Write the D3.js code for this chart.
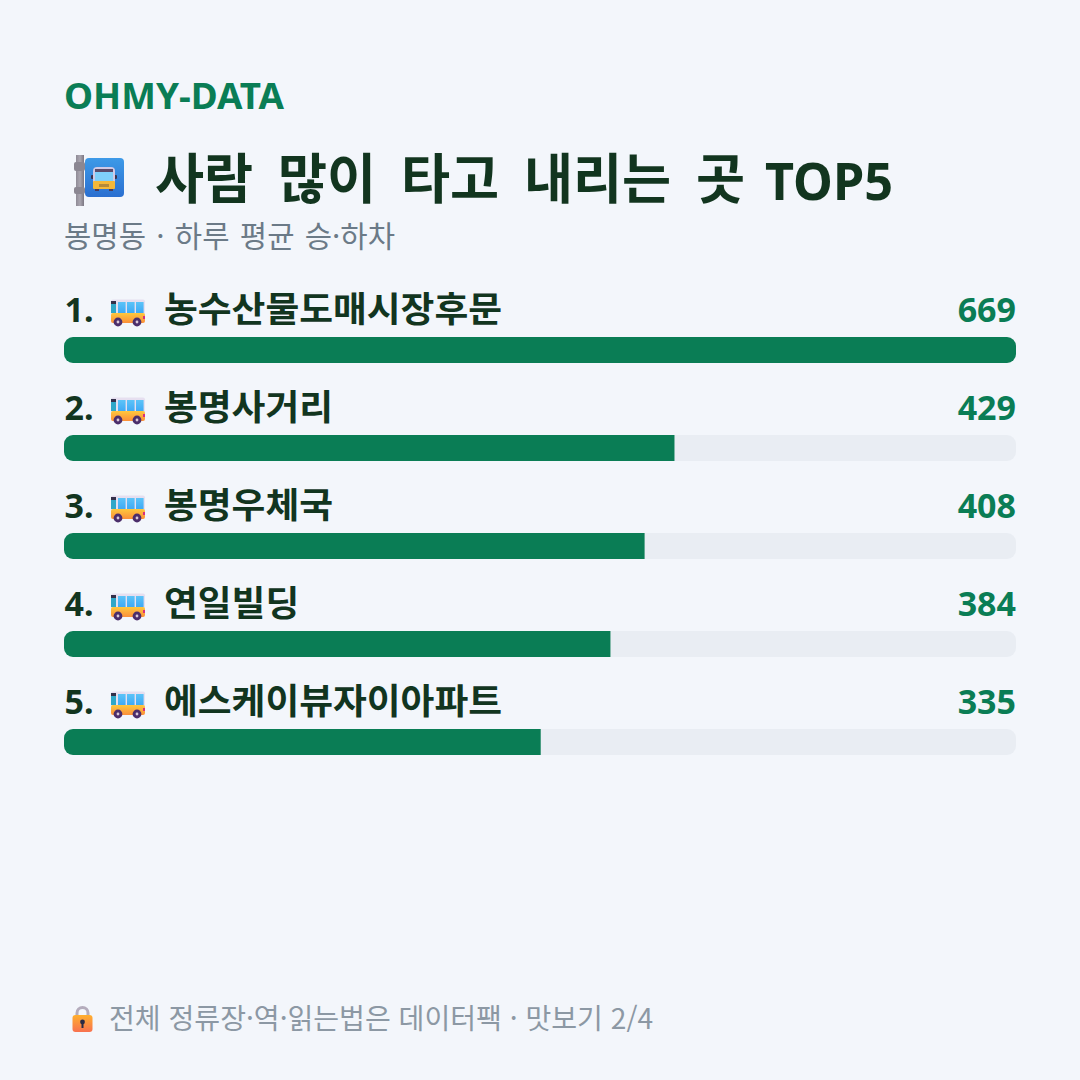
<!DOCTYPE html>
<html lang="ko">
<head>
<meta charset="utf-8">
<script src="https://cdn.jsdelivr.net/npm/d3@7"></script>
<style>
html,body{margin:0;padding:0;background:#f3f6fb;}
svg{display:block;}
text{font-family:"Noto Sans CJK KR","Noto Sans",sans-serif;}
.latin{font-family:"Noto Sans",sans-serif;}
</style>
</head>
<body>
<svg id="chart" width="1080" height="1080"></svg>
<script>
// Busiest stops in the neighbourhood, average daily boardings and alightings
const ranks = [1, 2, 3, 4, 5];
const stops = ["농수산물도매시장후문", "봉명사거리", "봉명우체국", "연일빌딩", "에스케이뷰자이아파트"];
const riders = [669, 429, 408, 384, 335];
const brandText = "OHMY-DATA";
const titleText = "사람 많이 타고 내리는 곳";
const titleTail = "TOP5";
const subtitleText = "봉명동 · 하루 평균 승·하차";
const footerText = "전체 정류장·역·읽는법은 데이터팩 · 맛보기 2/4";

const green = "#0a7d55", dark = "#12351f", track = "#e9edf3";
const svg = d3.select("#chart");

// Places a line of text and fits it to a set advance width
function label(parent, str, x, y, size, weight, fill, width, cls) {
  const t = parent.append("text").text(str)
    .attr("x", x).attr("y", y).attr("fill", fill)
    .attr("font-size", size).attr("font-weight", weight);
  if (width) t.attr("textLength", width).attr("lengthAdjust", "spacingAndGlyphs");
  if (cls) t.attr("class", cls);
  return t;
}

const defs = svg.append("defs");
function grad(id, stops, x2 = 0, y2 = 1) {
  const g = defs.append("linearGradient").attr("id", id)
    .attr("x1", 0).attr("y1", 0).attr("x2", x2).attr("y2", y2);
  stops.forEach(([o, c]) => g.append("stop").attr("offset", o).attr("stop-color", c));
}
grad("signBlue", [[0, "#3d9ae8"], [1, "#2a6fd0"]]);
grad("pole", [[0, "#8f8b96"], [0.5, "#aaa6b0"], [1, "#7b7782"]], 1, 0);
grad("busBody", [[0, "#ffc83d"], [1, "#fb8f3a"]]);
grad("busGlass", [[0, "#5cc4f8"], [1, "#3fa9f5"]]);
grad("lockBody", [[0, "#ffb02e"], [1, "#f8714f"]]);

// Track outline: fills are clipped to it, so only the left end of a fill looks rounded
defs.append("clipPath").attr("id", "trackClip")
  .append("rect").attr("width", 952).attr("height", 26).attr("rx", 9);

svg.append("rect").attr("width", 1080).attr("height", 1080).attr("fill", "#f3f6fb");

label(svg, brandText, 64, 109, 36.5, 700, green, 220, "latin");

// Bus-stop sign beside the headline
const sign = svg.append("g").attr("transform", "translate(74,155)");
sign.append("rect").attr("x", 2).attr("width", 8).attr("height", 51).attr("fill", "url(#pole)");
sign.append("rect").attr("y", 7).attr("width", 11).attr("height", 9).attr("rx", 2).attr("fill", "#8b8792");
sign.append("rect").attr("y", 32).attr("width", 11).attr("height", 7).attr("rx", 2).attr("fill", "#8b8792");
sign.append("rect").attr("x", 11).attr("y", 3).attr("width", 39).attr("height", 39).attr("rx", 4).attr("fill", "url(#signBlue)");
sign.append("rect").attr("x", 17).attr("y", 20).attr("width", 26).attr("height", 4).attr("rx", 1).attr("fill", "#3a3350");
sign.append("rect").attr("x", 19).attr("y", 12).attr("width", 22).attr("height", 22).attr("rx", 4).attr("fill", "#cfc9e6");
sign.append("rect").attr("x", 21).attr("y", 14).attr("width", 18).attr("height", 3).attr("fill", "#5a4a6a");
sign.append("rect").attr("x", 21).attr("y", 17).attr("width", 18).attr("height", 9).attr("fill", "#7fd0fa");
sign.append("rect").attr("x", 19).attr("y", 26).attr("width", 22).attr("height", 8).attr("rx", 1).attr("fill", "#f4b83a");
sign.append("rect").attr("x", 25).attr("y", 29).attr("width", 10).attr("height", 3).attr("fill", "#b58a3a");
sign.append("rect").attr("x", 21).attr("y", 34).attr("width", 4).attr("height", 2).attr("fill", "#4a3a5a");
sign.append("rect").attr("x", 35).attr("y", 34).attr("width", 4).attr("height", 2).attr("fill", "#4a3a5a");

label(svg, titleText, 155, 199, 54, 700, dark, 590).style("word-spacing", "10px");
label(svg, titleTail, 765, 200, 52, 700, dark, 128, "latin");

label(svg, subtitleText, 64, 247, 29.5, 400, "#6b7a87", 331).style("word-spacing", "2px");

// Horizontal bars share one value scale spanning the full track
const x = d3.scaleLinear().domain([0, d3.max(riders)]).range([0, 952]);
const rowY = d3.scaleBand().domain(ranks).range([337, 337 + 98 * 5]);

const rows = svg.selectAll("g.row").data(ranks).join("g")
  .attr("class", "row")
  .attr("transform", d => `translate(64,${rowY(d)})`);

rows.append("rect").attr("width", 952).attr("height", 26).attr("rx", 9).attr("fill", track);
rows.append("rect").attr("width", (d, i) => x(riders[i])).attr("height", 26)
  .attr("clip-path", "url(#trackClip)").attr("fill", green);

rows.append("text").text(d => d + ".").attr("class", "latin")
  .attr("x", 0.5).attr("y", -15).attr("fill", dark)
  .attr("font-size", 34).attr("font-weight", 700);

rows.append("text").text((d, i) => stops[i])
  .attr("x", 100).attr("y", -15).attr("fill", dark)
  .attr("font-size", 35).attr("font-weight", 700)
  .attr("textLength", (d, i) => stops[i].length * 33.8).attr("lengthAdjust", "spacingAndGlyphs");

rows.append("text").text((d, i) => riders[i]).attr("class", "latin")
  .attr("x", 952).attr("y", -15).attr("text-anchor", "end").attr("fill", green)
  .attr("font-size", 34).attr("font-weight", 700);

// Small bus pictogram in every row
const bus = rows.append("g").attr("transform", "translate(46,-38)");
bus.append("rect").attr("x", 1).attr("y", 0.5).attr("width", 34).attr("height", 16).attr("rx", 2).attr("fill", "#e6dff0");
bus.append("rect").attr("x", 1).attr("y", 14).attr("width", 34).attr("height", 10).attr("rx", 2).attr("fill", "url(#busBody)");
[8, 17, 26].forEach(wx => {
  bus.append("rect").attr("x", wx).attr("y", 3).attr("width", 7.6).attr("height", 11).attr("fill", "url(#busGlass)");
});
bus.append("rect").attr("x", 1).attr("y", 2).attr("width", 5).attr("height", 3).attr("fill", "#33304a");
bus.append("rect").attr("x", 1).attr("y", 5).attr("width", 5).attr("height", 9).attr("fill", "#2fa7c8");
bus.append("rect").attr("x", 33).attr("y", 17).attr("width", 2).attr("height", 3).attr("fill", "#d8307a");
[8, 27].forEach(cx => {
  bus.append("circle").attr("cx", cx).attr("cy", 23).attr("r", 4.4).attr("fill", "#4b2e6b");
  bus.append("circle").attr("cx", cx).attr("cy", 23).attr("r", 1.4).attr("fill", "#d9c8d8");
});

// Padlock ahead of the footer note
const lock = svg.append("g").attr("transform", "translate(72,1006)");
lock.append("path").attr("d", "M5 10V7a5.5 5.5 0 0 1 11 0v3").attr("fill", "none").attr("stroke", "#b4acbc").attr("stroke-width", 3);
lock.append("rect").attr("x", 0.5).attr("y", 9).attr("width", 20).attr("height", 17).attr("rx", 3).attr("fill", "url(#lockBody)");
lock.append("circle").attr("cx", 10.5).attr("cy", 16).attr("r", 2.4).attr("fill", "#2b2a45");
lock.append("rect").attr("x", 9.5).attr("y", 16).attr("width", 2).attr("height", 6).attr("fill", "#2b2a45");

label(svg, footerText, 109, 1029, 28, 400, "#8c98a4", 544);
</script>
</body>
</html>
